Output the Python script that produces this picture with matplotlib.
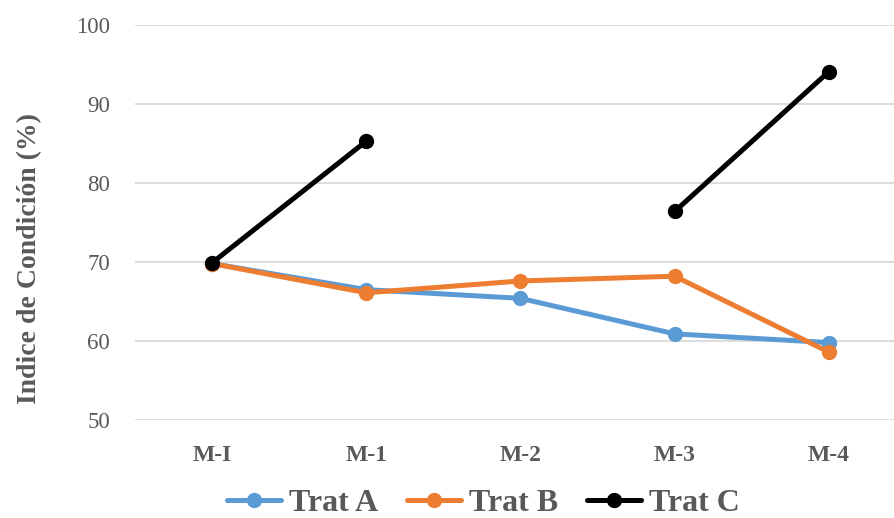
import matplotlib.pyplot as plt
import numpy as np

plt.rcParams['font.family'] = ['Liberation Serif', 'DejaVu Serif']

muestreos = ["M-I", "M-1", "M-2", "M-3", "M-4"]
trat_a = [69.8, 66.5, 65.4, 60.9, 59.8]
trat_b = [69.8, 66.1, 67.6, 68.2, 58.6]
trat_c = [69.9, 85.3, np.nan, 76.4, 94.1]

series = [
    ("Trat A", trat_a, "#5b9bd5"),
    ("Trat B", trat_b, "#ed7d31"),
    ("Trat C", trat_c, "#000000"),
]

gris = "#595959"

fig = plt.figure(figsize=(8.95, 5.18), dpi=100)
ax = fig.add_axes([135 / 895, 98 / 518, 771 / 895, 395 / 518])

x = np.arange(len(muestreos))
for nombre, valores, color in series:
    ax.plot(x, valores, color=color, lw=3.6, marker="o", ms=10,
            solid_capstyle="round", label=nombre)

ax.set_xlim(-0.5, len(muestreos) - 0.5)
ax.set_ylim(50, 100)
ax.set_yticks(range(50, 101, 10))
ax.set_xticks(x)
ax.set_xticklabels(muestreos, fontweight="bold", fontsize=17, color=gris)
ax.tick_params(axis="y", labelsize=16.5, labelcolor=gris, length=0, pad=18)
ax.tick_params(axis="x", length=0, pad=18)

ax.grid(axis="y", color="#d9d9d9", lw=1.3)
ax.set_axisbelow(True)
for s in ax.spines.values():
    s.set_visible(False)

ax.set_ylabel("Indice de Condición (%)", fontsize=20, fontweight="bold",
              color=gris)
ax.yaxis.set_label_coords(-0.12, 0.41)

leg = fig.legend(loc="center", bbox_to_anchor=(0.54, 15 / 518), ncol=3,
                 frameon=False, handlelength=1.7, handletextpad=0.25,
                 columnspacing=0.9, borderpad=0.1,
                 prop={"weight": "bold", "size": 23})
for t in leg.get_texts():
    t.set_color(gris)

fig.savefig("out.png", dpi=100)
